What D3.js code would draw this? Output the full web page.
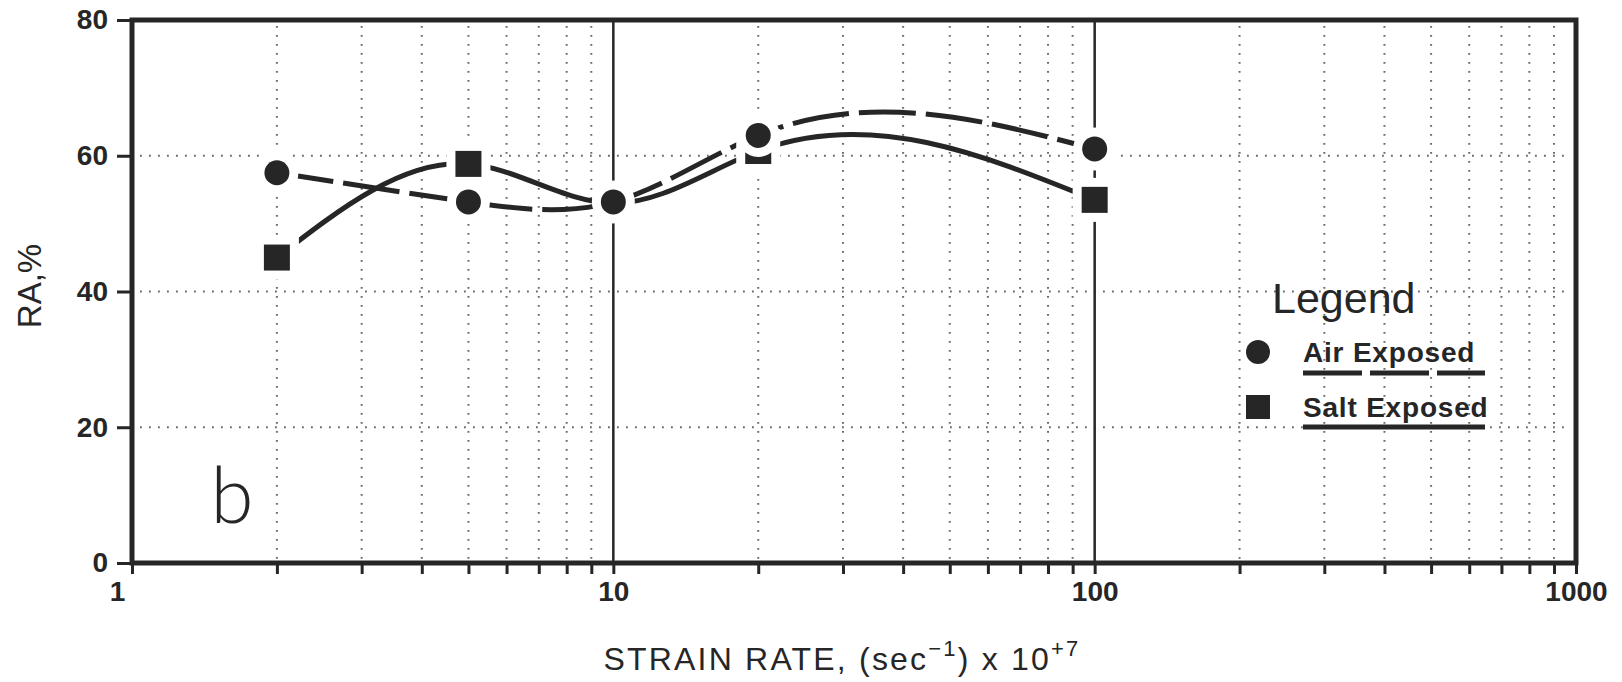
<!DOCTYPE html>
<html>
<head>
<meta charset="utf-8">
<script src="https://cdn.jsdelivr.net/npm/d3@7/dist/d3.min.js"></script>
<style>
  html, body { margin: 0; padding: 0; background: #ffffff; }
  svg { display: block; }
</style>
</head>
<body>
<svg id="chart" width="1622" height="682"></svg>
<script>
// ---------------- data ----------------
const strainRates   = [2, 5, 10, 20, 100];
const airExposed    = [57.5, 53.2, 53.2, 63.0, 61.0];
const saltExposed   = [45.0, 58.8, 53.0, 60.7, 53.5];
const saltMarkerShown = [true, true, false, true, true];

const xTickValues = [1, 10, 100, 1000];
const xTickLabels = ["1", "10", "100", "1000"];
const yTickValues = [0, 20, 40, 60, 80];
const yTickLabels = ["0", "20", "40", "60", "80"];
const yGridValues = [20, 40, 60];
const xSolidLines = [10, 100];

const seriesNames = ["Air Exposed", "Salt Exposed"];
const xTitle = ["STRAIN RATE, (sec", "\u22121", ") x 10", "+7"];
const yTitle = "RA,%";
const panelLabel = "b";
const legendTitle = "Legend";

// ---------------- layout ----------------
const ink = "#262626";
const font = "'Liberation Sans', Arial, sans-serif";
const L = 132, R = 1576, T = 20, B = 563;

const svg = d3.select("#chart");
const x = d3.scaleLog().domain([1, 1000]).range([L, R]);
const y = d3.scaleLinear().domain([0, 80]).range([B, T]);

// custom d3 curve: natural cubic spline of y as a function of x
function NaturalX(context) { this._context = context; }
NaturalX.prototype = {
  areaStart() { this._line = 0; },
  areaEnd() { this._line = NaN; },
  lineStart() { this._px = []; this._py = []; },
  point(px, py) { this._px.push(+px); this._py.push(+py); },
  lineEnd() {
    const X = this._px, Y = this._py, n = X.length, ctx = this._context;
    if (!n) return;
    ctx.moveTo(X[0], Y[0]);
    if (n === 1) return;
    if (n === 2) { ctx.lineTo(X[1], Y[1]); return; }
    const h = [], d = [];
    for (let i = 0; i < n - 1; i++) { h[i] = X[i + 1] - X[i]; d[i] = (Y[i + 1] - Y[i]) / h[i]; }
    const m = n - 2, a = [], b = [], c = [], r = [];
    for (let k = 0; k < m; k++) {
      const i = k + 1;
      a[k] = h[i - 1]; b[k] = 2 * (h[i - 1] + h[i]); c[k] = h[i]; r[k] = 6 * (d[i] - d[i - 1]);
    }
    for (let k = 1; k < m; k++) { const w = a[k] / b[k - 1]; b[k] -= w * c[k - 1]; r[k] -= w * r[k - 1]; }
    const M = new Array(n).fill(0);
    M[m] = r[m - 1] / b[m - 1];
    for (let k = m - 2; k >= 0; k--) M[k + 1] = (r[k] - c[k] * M[k + 2]) / b[k];
    const s = [];
    for (let i = 0; i < n - 1; i++) s[i] = d[i] - h[i] * (2 * M[i] + M[i + 1]) / 6;
    s[n - 1] = d[n - 2] + h[n - 2] * (M[n - 2] + 2 * M[n - 1]) / 6;
    for (let i = 0; i < n - 1; i++) {
      ctx.bezierCurveTo(X[i] + h[i] / 3, Y[i] + s[i] * h[i] / 3,
                        X[i + 1] - h[i] / 3, Y[i + 1] - s[i + 1] * h[i] / 3,
                        X[i + 1], Y[i + 1]);
    }
  }
};
const curveNaturalX = ctx => new NaturalX(ctx);

// minor decade values
const minorValues = [];
[1, 10, 100].forEach(d => { for (let k = 2; k <= 9; k++) minorValues.push(k * d); });

// ---------------- grid ----------------
const grid = svg.append("g");
grid.selectAll("line.vg").data(minorValues).join("line")
  .attr("x1", d => x(d)).attr("x2", d => x(d))
  .attr("y1", y(80) + 6).attr("y2", y(0) - 4)
  .attr("stroke", "#6a6a6a").attr("stroke-width", 2)
  .attr("stroke-dasharray", "1.8,7.2");
grid.selectAll("line.hg").data(yGridValues).join("line")
  .attr("x1", x(1) + 8).attr("x2", x(1000) - 6)
  .attr("y1", d => y(d)).attr("y2", d => y(d))
  .attr("stroke", "#6a6a6a").attr("stroke-width", 2)
  .attr("stroke-dasharray", "1.8,7.2");

grid.selectAll("line.solid").data(xSolidLines).join("line")
  .attr("x1", d => x(d)).attr("x2", d => x(d))
  .attr("y1", y(80)).attr("y2", y(0))
  .attr("stroke", ink).attr("stroke-width", 2.5);

// ---------------- axes ----------------
const xAxis = d3.axisBottom(x)
  .tickValues(xTickValues.concat(minorValues))
  .tickSize(11).tickPadding(7)
  .tickFormat(d => { const i = xTickValues.indexOf(d); return i >= 0 ? xTickLabels[i] : ""; });
const gx = svg.append("g").attr("transform", `translate(0,${B})`).call(xAxis);
gx.select(".domain").remove();
gx.selectAll(".tick line").attr("stroke", ink).attr("stroke-width", 3);
gx.selectAll(".tick text")
  .attr("fill", ink).attr("font-family", font).attr("font-size", 28).attr("font-weight", "bold")
  .attr("dx", d => d === 1 ? -15 : 0);

const yAxis = d3.axisLeft(y)
  .tickValues(yTickValues).tickSize(15).tickPadding(9)
  .tickFormat((d, i) => yTickLabels[i]);
const gy = svg.append("g").attr("transform", `translate(${L},0)`).call(yAxis);
gy.select(".domain").remove();
gy.selectAll(".tick line").attr("stroke", ink).attr("stroke-width", 3);
gy.selectAll(".tick text")
  .attr("fill", ink).attr("font-family", font).attr("font-size", 28).attr("font-weight", "bold");

// frame
svg.append("rect")
  .attr("x", L).attr("y", T).attr("width", R - L).attr("height", B - T)
  .attr("fill", "none").attr("stroke", ink).attr("stroke-width", 5);

// ---------------- curves ----------------
const line = d3.line().x(d => x(d[0])).y(d => y(d[1])).curve(curveNaturalX);
const airPts = strainRates.map((s, i) => [s, airExposed[i]]);
const saltPts = strainRates.map((s, i) => [s, saltExposed[i]]);

svg.append("path").attr("d", line(saltPts))
  .attr("fill", "none").attr("stroke", ink).attr("stroke-width", 5)
  .attr("stroke-linecap", "round");
svg.append("path").attr("d", line(airPts))
  .attr("fill", "none").attr("stroke", ink).attr("stroke-width", 5)
  .attr("stroke-dasharray", "57,10");

// ---------------- markers (with white halo) ----------------
const sq = 26, rc = 12.5, halo = 18;
const saltData = strainRates.map((s, i) => ({ s, v: saltExposed[i], show: saltMarkerShown[i] })).filter(d => d.show);
const airData = strainRates.map((s, i) => ({ s, v: airExposed[i] }));

function squares(sel, isHalo) {
  sel.selectAll(null).data(saltData).join("rect")
    .attr("x", d => x(d.s) - sq / 2).attr("y", d => y(d.v) - sq / 2)
    .attr("width", sq).attr("height", sq)
    .attr("fill", isHalo ? "white" : ink)
    .attr("stroke", isHalo ? "white" : "none").attr("stroke-width", isHalo ? halo : 0);
}
function circles(sel, isHalo) {
  sel.selectAll(null).data(airData).join("circle")
    .attr("cx", d => x(d.s)).attr("cy", d => y(d.v)).attr("r", rc)
    .attr("fill", isHalo ? "white" : ink)
    .attr("stroke", isHalo ? "white" : "none").attr("stroke-width", isHalo ? halo : 0);
}
const mk = svg.append("g");
squares(mk.append("g"), true);
squares(mk.append("g"), false);
circles(mk.append("g"), true);
circles(mk.append("g"), false);

// ---------------- legend ----------------
const lg = svg.append("g");
lg.append("text").attr("x", 1272).attr("y", 313)
  .attr("font-family", font).attr("font-size", 43).attr("fill", ink).text(legendTitle);
lg.append("circle").attr("cx", 1258).attr("cy", 352).attr("r", 12).attr("fill", ink);
lg.append("rect").attr("x", 1246).attr("y", 395).attr("width", 24).attr("height", 24).attr("fill", ink);
[[seriesNames[0], 362], [seriesNames[1], 417]].forEach(([t, by]) => {
  lg.append("text").attr("x", 1303).attr("y", by)
    .attr("font-family", font).attr("font-size", 28).attr("font-weight", "bold")
    .attr("letter-spacing", 0.8).attr("fill", ink).text(t);
});
lg.append("line").attr("x1", 1303).attr("x2", 1485).attr("y1", 373).attr("y2", 373)
  .attr("stroke", ink).attr("stroke-width", 5).attr("stroke-dasharray", "59,8");
lg.append("line").attr("x1", 1303).attr("x2", 1485).attr("y1", 427).attr("y2", 427)
  .attr("stroke", ink).attr("stroke-width", 5);

// ---------------- titles ----------------
svg.append("text").attr("x", 232).attr("y", 523).attr("text-anchor", "middle")
  .attr("font-family", "Lato, " + font).attr("font-weight", 300)
  .attr("font-size", 78).attr("fill", ink).text(panelLabel);

const xt = svg.append("text").attr("x", 842).attr("y", 670).attr("text-anchor", "middle")
  .attr("font-family", font).attr("font-size", 32).attr("letter-spacing", 2.2).attr("fill", ink);
xt.append("tspan").text(xTitle[0]);
xt.append("tspan").attr("dy", -14).attr("font-size", 22).text(xTitle[1]);
xt.append("tspan").attr("dy", 14).text(xTitle[2]);
xt.append("tspan").attr("dy", -14).attr("font-size", 22).text(xTitle[3]);

svg.append("text")
  .attr("transform", "translate(41,286) rotate(-90)")
  .attr("text-anchor", "middle")
  .attr("font-family", font).attr("font-size", 33).attr("fill", ink).text(yTitle);
</script>
</body>
</html>
